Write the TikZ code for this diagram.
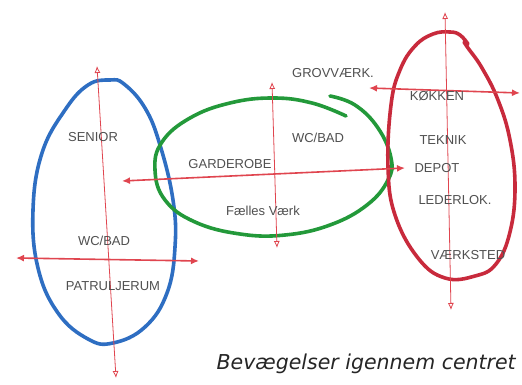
\documentclass[tikz,border=0pt]{standalone}
\usepackage{fontspec}
\setmainfont{Liberation Sans}
\newfontfamily\capfont{DejaVu Sans}
\usetikzlibrary{arrows.meta}
\definecolor{blueloop}{HTML}{2E6EC2}
\definecolor{greenloop}{HTML}{23993A}
\definecolor{redloop}{HTML}{C82A3C}
\definecolor{arrowred}{HTML}{E0454F}
\definecolor{pencil}{HTML}{505050}
\tikzset{
  loopline/.style={line width=3.6pt, line cap=round, line join=round},
  flowthin/.style={arrowred, line width=0.8pt, {Latex[length=7pt,width=6pt,open]}-{Latex[length=7pt,width=6pt,open]}},
  flowthick/.style={arrowred, line width=1.6pt, {Latex[length=8pt,width=7pt]}-{Latex[length=8pt,width=7pt]}},
  hand/.style={pencil, font=\fontsize{13}{13}\selectfont, inner sep=0pt},
  caption/.style={black!85, font=\capfont\itshape\fontsize{20.5}{22}\selectfont, inner sep=0pt, anchor=base east}
}
\begin{document}
\begin{tikzpicture}[x=1pt,y=-1pt]
\useasboundingbox (0,0) rectangle (522,385);
\fill[white] (0,0) rectangle (522,385);

% blue loop (left)
\draw[loopline, blueloop] plot[smooth cycle, tension=0.7] coordinates {
 (110,80) (124,84) (145,108) (160,145) (173,200) (175,247) (167,293) (145,327)
 (113,343) (88,339) (58,313) (38,268) (33,210) (42,153) (65,110) (88,85)};

% green loop (centre), open at top right
\draw[loopline, greenloop] plot[smooth, tension=0.7] coordinates {
 (346,116) (312,103) (273,98) (230,103) (190,118) (162,142) (155,170)
 (165,200) (195,222) (240,234) (285,235) (330,225) (367,205) (388,180)
 (391,158) (378,128) (355,105) (330,96)};

% red loop (right)
\draw[loopline, redloop] plot[smooth, tension=0.7] coordinates {
 (468,44) (460,35) (450,32) (433,34) (415,46) (400,70) (391,105) (388,167)
 (395,215) (418,258) (445,278) (475,276) (496,264) (510,232) (515,187)
 (510,140) (498,100) (482,68) (468,48) (464,42)};

% blue arrows
\coordinate (bT) at (97,66);  \coordinate (bB) at (116,378);
\coordinate (bL) at (16,258); \coordinate (bR) at (199,261);
\draw[flowthin] (bT) -- (bB);
\draw[flowthick] (bL) -- (bR);

% green arrows
\coordinate (gT) at (272,82);  \coordinate (gB) at (277,248);
\coordinate (gL) at (122,181); \coordinate (gR) at (405,168);
\draw[flowthin] (gT) -- (gB);
\draw[flowthick] (gL) -- (gR);

% red arrows
\coordinate (rT) at (445,12);  \coordinate (rB) at (451,310);
\coordinate (rL) at (369,88);  \coordinate (rR) at (520,93);
\draw[flowthin] (rT) -- (rB);
\draw[flowthick] (rL) -- (rR);

% labels
\node[hand] (senior) at (93,137) {SENIOR};
\node[hand] (wcbadA) at (104,241) {WC/BAD};
\node[hand] (patrul) at (113,286) {PATRULJERUM};
\node[hand] (garde) at (230,164) {GARDEROBE};
\node[hand] (wcbadB) at (318,138) {WC/BAD};
\node[hand] (faelles) at (263,211) {Fælles Værk};
\node[hand] (grov) at (333,73) {GROVVÆRK.};
\node[hand] (koek) at (437,96) {KØKKEN};
\node[hand] (teknik) at (443,140) {TEKNIK};
\node[hand] (depot) at (437,168) {DEPOT};
\node[hand] (leder) at (455,200) {LEDERLOK.};
\node[hand] (vaerk) at (468,255) {VÆRKSTED};

\node[caption] (cap) at (516,369) {Bevægelser igennem centret};
\end{tikzpicture}
\end{document}
